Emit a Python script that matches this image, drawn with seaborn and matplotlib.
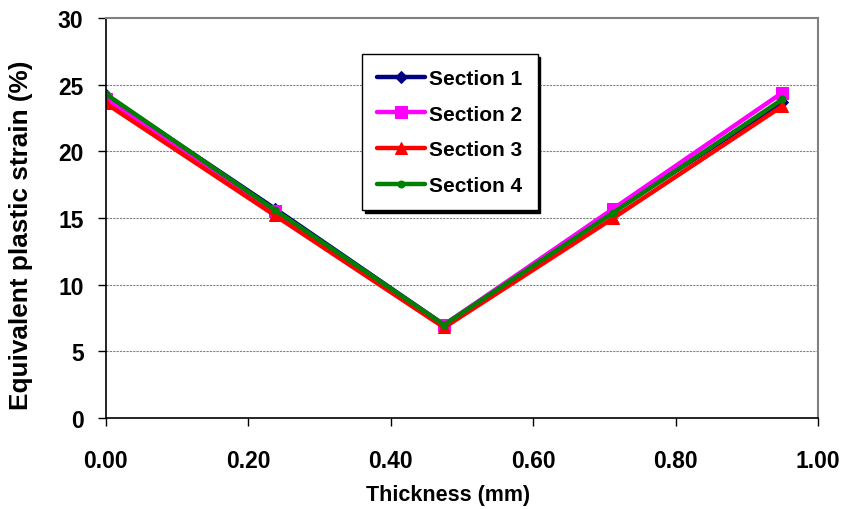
import matplotlib
matplotlib.use("Agg")
import matplotlib.pyplot as plt
import seaborn as sb
import pandas as pd

thickness = [0.0, 0.2375, 0.475, 0.7125, 0.95]
section1 = [24.2, 15.7, 7.0, 15.5, 23.7]
section2 = [23.9, 15.5, 7.0, 15.7, 24.4]
section3 = [23.6, 15.2, 6.8, 15.0, 23.4]
section4 = [24.3, 15.6, 7.0, 15.4, 23.9]
names = ["Section 1", "Section 2", "Section 3", "Section 4"]

rows = []
for name, vals in zip(names, [section1, section2, section3, section4]):
    for x, y in zip(thickness, vals):
        rows.append({"Thickness": x, "Strain": y, "Section": name})
df = pd.DataFrame(rows)

sb.set_style("white")
plt.rcParams['font.family'] = ['Liberation Sans', 'DejaVu Sans']
plt.rcParams['text.color'] = 'black'
plt.rcParams['axes.labelcolor'] = 'black'
plt.rcParams['xtick.color'] = 'black'
plt.rcParams['ytick.color'] = 'black'

colors = {"Section 1": "#000080", "Section 2": "#ff00ff",
          "Section 3": "#ff0000", "Section 4": "#008000"}
markers = {"Section 1": "D", "Section 2": "s", "Section 3": "^", "Section 4": "o"}
sizes_m = {"Section 1": 6, "Section 2": 8, "Section 3": 8, "Section 4": 5}

fig = plt.figure(figsize=(8.46, 5.10), dpi=100)
ax = fig.add_axes([0.125, 0.178, 0.842, 0.785])

for name in names:
    sb.lineplot(data=df[df.Section == name], x="Thickness", y="Strain",
                color=colors[name], marker=markers[name],
                markersize=sizes_m[name], markeredgecolor=colors[name],
                linewidth=3.2, label=name, ax=ax)

ax.set_xlim(0, 1.0)
ax.set_ylim(0, 30)
ax.set_xticks([0, 0.2, 0.4, 0.6, 0.8, 1.0])
ax.set_xticklabels(["0.00", "0.20", "0.40", "0.60", "0.80", "1.00"],
                   fontweight="bold", fontsize=16.5)
ax.set_yticks(range(0, 31, 5))
for lab in ax.get_yticklabels():
    lab.set_fontweight("bold")
    lab.set_fontsize(16.5)
for y in range(5, 30, 5):
    ax.axhline(y, color="gray", linestyle=(0, (2, 1)), linewidth=0.8, zorder=0)

ax.set_xlabel("Thickness (mm)", fontweight="bold", fontsize=15.5)
ax.xaxis.set_label_coords(0.48, -0.165)
ax.set_ylabel("Equivalent plastic strain (%)", fontweight="bold", fontsize=18.8)
ax.yaxis.set_label_coords(-0.1025, 0.46)

for s in ["left", "bottom"]:
    ax.spines[s].set_color("black")
    ax.spines[s].set_linewidth(1.2)
for s in ["top", "right"]:
    ax.spines[s].set_color("gray")
    ax.spines[s].set_linewidth(1.5)
ax.tick_params(axis="x", direction="out", length=6, width=1, pad=16, bottom=True)
ax.tick_params(axis="y", direction="out", length=6, width=1, pad=10, left=True)

leg = ax.legend(loc="upper left", bbox_to_anchor=(0.36, 0.91), frameon=True,
                fancybox=False, shadow={"color": "black", "alpha": 1},
                edgecolor="black", handlelength=2.3, handletextpad=0.2,
                labelspacing=0.8, borderpad=0.72, borderaxespad=0,
                prop={"weight": "bold", "size": 15})
leg.get_frame().set_linewidth(1.0)

fig.savefig("out.png", dpi=100)
